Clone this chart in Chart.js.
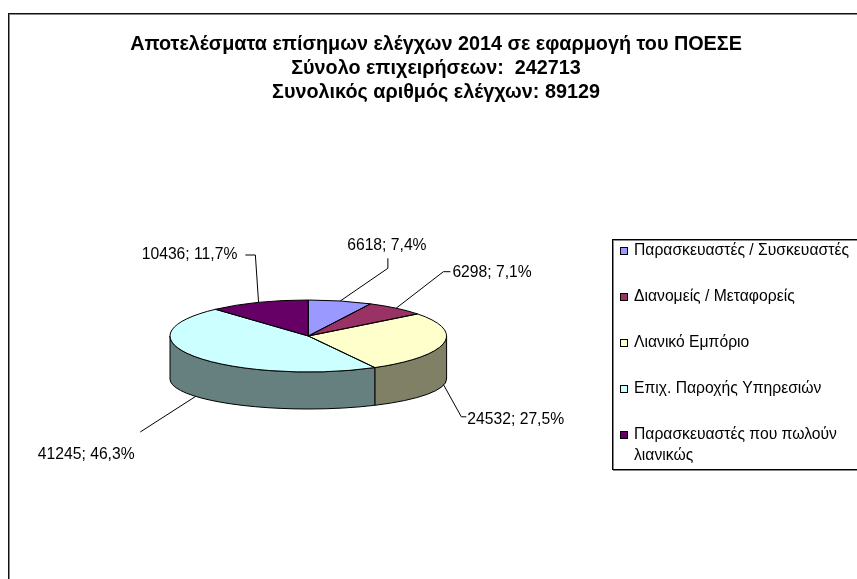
<!DOCTYPE html>
<html><head><meta charset="utf-8">
<script src="https://cdn.jsdelivr.net/npm/chart.js@4.4.0/dist/chart.umd.min.js"></script>
<style>html,body{margin:0;padding:0;background:#fff;overflow:hidden}
#wrap{position:relative;width:857px;height:579px}</style>
</head><body><div id="wrap"><canvas id="c" width="857" height="579"></canvas></div>
<script>
// ---- data ----
const titleLines = ['Αποτελέσματα επίσημων ελέγχων 2014 σε εφαρμογή του ΠΟΕΣΕ', 'Σύνολο επιχειρήσεων:  242713', 'Συνολικός αριθμός ελέγχων: 89129'];
const categories = ['Παρασκευαστές / Συσκευαστές', 'Διανομείς / Μεταφορείς', 'Λιανικό Εμπόριο', 'Επιχ. Παροχής Υπηρεσιών', 'Παρασκευαστές που πωλούν λιανικώς'];
const values = [6618, 6298, 24532, 41245, 10436];
const legendLines = [['Παρασκευαστές / Συσκευαστές'], ['Διανομείς / Μεταφορείς'], ['Λιανικό Εμπόριο'], ['Επιχ. Παροχής Υπηρεσιών'], ['Παρασκευαστές που πωλούν', 'λιανικώς']];

// ---- styles ----
const topColors = ['#9999FF', '#993366', '#FFFFCC', '#CCFFFF', '#660066'];
const sideColors = ['#4d4d80', '#4d1a33', '#808066', '#668080', '#330033'];
const FONT = '"Liberation Sans", Arial, sans-serif';
const geo = { cx: 308.3, cy: 336, rx: 138.3, ryTop: 36, dy: 43, ryBot: 30 };
// label leader offsets relative to the slice anchor
const labelStyle = [
  { pts: [[47.6, -32.7], [47.6, -42.7]], text: [46.6, -55.5], align: 'center' },
  { pts: [[47.2, -36.5], [54.2, -36.5]], text: [56.2, -35.5], align: 'left' },
  { pts: [[17.6, 31.7], [22.6, 31.7]], text: [23.6, 34.3], align: 'left' },
  { pts: [[-55.4, 35.6]], text: [-61, 58.6], align: 'right' },
  { pts: [[-3.2, -47.4], [-13.2, -47.4]], text: [-21.2, -47.4], align: 'right' }
];
const W = 857, H = 579;
const total = values.reduce((a, b) => a + b, 0);

function geomOf(chart) {
  const arcs = chart.getDatasetMeta(0).data;
  const a = arcs[0];
  return { arcs, cx: a.x, cy: a.y, r: a.outerRadius };
}

const pie3d = {
  id: 'pie3d',
  beforeDatasetsDraw(chart) {
    const ctx = chart.ctx;
    const { arcs, cx, cy, r } = geomOf(chart);
    ctx.save();
    ctx.lineWidth = 1; ctx.strokeStyle = '#000';
    arcs.forEach((arc, i) => {
      const a = Math.max(arc.startAngle, 0), b = Math.min(arc.endAngle, Math.PI);
      if (b > a) {
        ctx.beginPath();
        ctx.ellipse(cx, cy, r, geo.ryTop, 0, a, b);
        ctx.ellipse(cx, cy + geo.dy, r, geo.ryBot, 0, b, a, true);
        ctx.closePath();
        ctx.fillStyle = sideColors[i];
        ctx.fill(); ctx.stroke();
      }
    });
    ctx.restore();
    ctx.save();
    ctx.translate(cx, cy); ctx.scale(1, geo.ryTop / r); ctx.translate(-cx, -cy);
  },
  afterDatasetsDraw(chart) {
    const ctx = chart.ctx;
    ctx.restore();
    const { arcs, cx, cy, r } = geomOf(chart);
    ctx.save();
    ctx.lineWidth = 1; ctx.strokeStyle = '#000'; ctx.lineJoin = 'round';
    arcs.forEach(arc => {
      ctx.beginPath();
      ctx.moveTo(cx, cy);
      ctx.ellipse(cx, cy, r, geo.ryTop, 0, arc.startAngle, arc.endAngle);
      ctx.closePath();
      ctx.stroke();
    });
    // data labels
    ctx.font = '15.7px ' + FONT;
    ctx.fillStyle = '#000';
    ctx.textBaseline = 'middle';
    arcs.forEach((arc, i) => {
      const m = (arc.startAngle + arc.endAngle) / 2;
      const front = Math.sin(m) > 0.15;
      const ax = cx + r * Math.cos(m);
      const ay = front ? cy + geo.dy + geo.ryBot * Math.sin(m) : cy + geo.ryTop * Math.sin(m);
      const st = labelStyle[i];
      ctx.beginPath();
      ctx.moveTo(ax, ay);
      st.pts.forEach(p => ctx.lineTo(ax + p[0], ay + p[1]));
      ctx.stroke();
      const pct = (values[i] / total * 100).toFixed(1).replace('.', ',');
      ctx.textAlign = st.align;
      ctx.fillText(values[i] + '; ' + pct + '%', ax + st.text[0], ay + st.text[1]);
    });
    ctx.restore();
  }
};

const decor = {
  id: 'decor',
  beforeDraw(chart) {
    const ctx = chart.ctx;
    ctx.save();
    ctx.fillStyle = '#fff'; ctx.fillRect(0, 0, W, H);
    ctx.strokeStyle = '#888'; ctx.lineWidth = 1;
    ctx.strokeRect(9.5, 14.5, 900, 600);
    ctx.strokeStyle = '#111';
    ctx.strokeRect(8.5, 13.5, 900, 600);
    ctx.restore();
  },
  afterDraw(chart) {
    const ctx = chart.ctx;
    ctx.save();
    // title
    ctx.fillStyle = '#000';
    ctx.font = 'bold 19.8px ' + FONT;
    ctx.textAlign = 'center'; ctx.textBaseline = 'middle';
    titleLines.forEach((t, i) => ctx.fillText(t, 436, 45 + i * 24));
    // legend
    ctx.strokeStyle = '#888';
    ctx.strokeRect(613.5, 240.5, 300, 230);
    ctx.strokeStyle = '#000';
    ctx.strokeRect(612.5, 239.5, 300, 230);
    ctx.font = '15.7px ' + FONT;
    ctx.textAlign = 'left';
    legendLines.forEach((lines, i) => {
      const y = 251 + i * 46;
      ctx.fillStyle = topColors[i];
      ctx.fillRect(620.5, y - 3.5, 7, 7);
      ctx.strokeStyle = '#000';
      ctx.strokeRect(620.5, y - 3.5, 7, 7);
      ctx.fillStyle = '#000';
      lines.forEach((l, j) => ctx.fillText(l, 634, y + j * 21));
    });
    ctx.restore();
  }
};

new Chart(document.getElementById('c'), {
  type: 'pie',
  data: {
    labels: categories,
    datasets: [{ data: values, backgroundColor: topColors, borderWidth: 0, hoverBorderWidth: 0, hoverOffset: 0 }]
  },
  options: {
    responsive: false,
    animation: false,
    events: [],
    layout: { padding: { left: geo.cx - geo.rx, right: W - geo.cx - geo.rx, top: geo.cy - geo.rx, bottom: H - geo.cy - geo.rx } },
    plugins: { legend: { display: false }, title: { display: false }, tooltip: { enabled: false } }
  },
  plugins: [decor, pie3d]
});
</script></body></html>
